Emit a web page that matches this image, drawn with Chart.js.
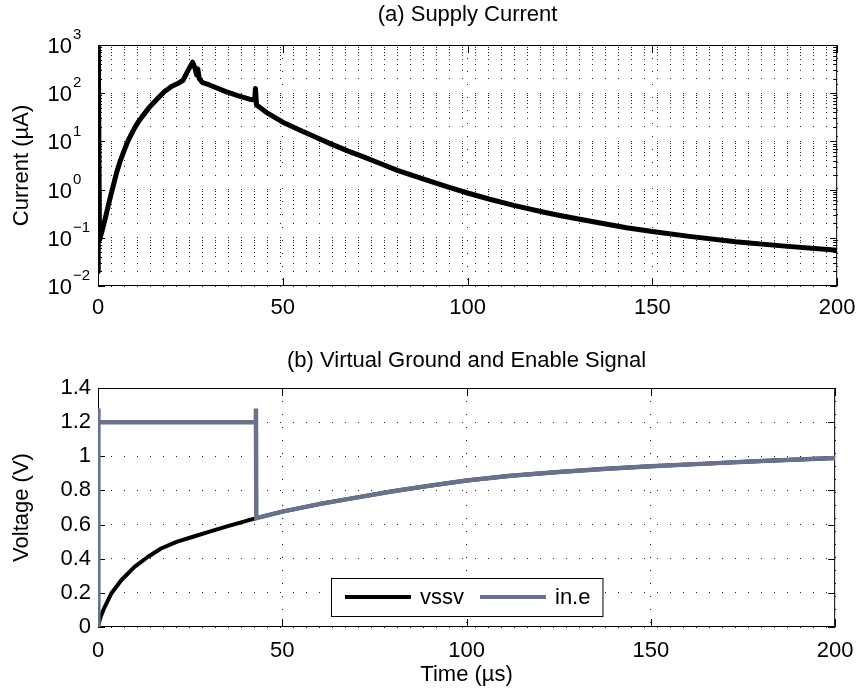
<!DOCTYPE html>
<html>
<head>
<meta charset="utf-8">
<script src="https://cdn.jsdelivr.net/npm/chart.js@4.4.0/dist/chart.umd.min.js"></script>
<style>
html, body { margin: 0; padding: 0; background: #fff; }
#wrap { position: relative; width: 864px; height: 689px; }
canvas { position: absolute; left: 0; }
#c1 { top: 0; }
#c2 { top: 345px; }
</style>
</head>
<body>
<div id="wrap">
<canvas id="c1" width="864" height="345"></canvas>
<canvas id="c2" width="864" height="344"></canvas>
</div>
<script>
var FONT = "'Liberation Sans', Arial, Helvetica, sans-serif";
Chart.defaults.font.family = FONT;
Chart.defaults.color = '#000';

// (a) supply current, time in us, current in uA
var tCur = [0, 0.05, 0.4, 1, 2, 3, 4, 5, 6, 7, 8, 9, 10, 11, 12, 14, 16, 18, 20, 22, 23,
  24.3, 25.6, 26.2, 26.7, 27.0, 27.4, 28.3, 30, 34.6, 38, 41, 42.4, 42.6, 42.9,
  46, 50, 55, 58.8, 63, 67.7, 72, 76.7, 81, 85.7, 90, 94.6, 100, 106, 112.5, 121, 125,
  130, 137, 143, 150, 160, 172.5, 185, 200];
var current = [0.02, 3000, 0.09, 0.13, 0.26, 0.55, 1.1, 2.2, 3.9, 6.2, 9.8, 14, 19.5, 26, 33, 52, 76, 108, 140, 165, 185,
  290, 440, 340, 240, 320, 200, 165, 150, 108, 88, 75, 72, 125, 57,
  38, 25, 16.6, 12.3, 8.9, 6.3, 4.7, 3.4, 2.5, 1.9, 1.48, 1.135, 0.85, 0.63, 0.47, 0.335, 0.29,
  0.245, 0.195, 0.162, 0.135, 0.107, 0.083, 0.068, 0.055];

// (b) virtual ground and enable signal, voltage in V
var tVssv = [0, 0.3, 0.8, 1.8, 3.6, 6.3, 9.9, 13.5, 17.1, 21.5, 26, 30.5, 35, 42.9,
  50, 60, 70, 80, 90, 100, 112, 125, 137, 150, 165, 180, 200];
var vssv = [0, 0.03, 0.065, 0.117, 0.196, 0.274, 0.352, 0.41, 0.46, 0.5, 0.53, 0.56, 0.589, 0.638,
  0.676, 0.72, 0.758, 0.795, 0.828, 0.858, 0.886, 0.908, 0.925, 0.941, 0.957, 0.972, 0.99];
var tEn = [0, 0.05, 0.15, 42.7, 42.85, 42.95, 50, 60, 70, 80, 90, 100, 112, 125, 137, 150, 165, 180, 200];
var inE = [0, 1.28, 1.2, 1.2, 1.28, 0.638, 0.676, 0.72, 0.758, 0.795, 0.828, 0.858, 0.886, 0.908, 0.925, 0.941, 0.957, 0.972, 0.99];

var timeTicks = [0, 50, 100, 150, 200];
var currentExp = [-2, -1, 0, 1, 2, 3];
var voltTicks = [0, 0.2, 0.4, 0.6, 0.8, 1, 1.2, 1.4];

function pts(xs, ys) {
  return xs.map(function (x, i) { return { x: x, y: ys[i] }; });
}
function isDecade(v) {
  var l = Math.log10(v);
  return Math.abs(l - Math.round(l)) < 1e-9;
}

// 1..9 x 10^n for the log grid
var logTicks = [];
currentExp.forEach(function (e, i) {
  for (var m = 1; m <= 9; m++) {
    if (i == currentExp.length - 1 && m > 1) break;
    logTicks.push(m * Math.pow(10, e));
  }
});

function setTicks(list) {
  return function (s) { s.ticks = list.map(function (v) { return { value: v }; }); };
}

var dotGrid = { color: '#222', lineWidth: 1, drawTicks: false };
var dotBorder = { display: false, dash: [1, 12] };

// box round the axes with inward ticks, like matlab (drawn under the data)
var frame = {
  id: 'frame',
  beforeDatasetsDraw: function (chart) {
    var a = chart.chartArea, ctx = chart.ctx;
    ctx.save();
    ctx.strokeStyle = '#000';
    ctx.lineWidth = 1;
    ctx.strokeRect(a.left + 0.5, a.top + 0.5, a.right - a.left - 1, a.bottom - a.top - 1);
    ctx.beginPath();
    var xs = chart.scales.x;
    xs.ticks.forEach(function (t) {
      var p = Math.round(xs.getPixelForValue(t.value)) + 0.5;
      ctx.moveTo(p, a.bottom); ctx.lineTo(p, a.bottom - 8);
      ctx.moveTo(p, a.top); ctx.lineTo(p, a.top + 8);
    });
    var ys = chart.scales.y;
    ys.ticks.forEach(function (t) {
      var p = Math.round(ys.getPixelForValue(t.value)) + 0.5;
      var len = (ys.type == 'logarithmic' && !isDecade(t.value)) ? 4 : 7;
      ctx.moveTo(a.left, p); ctx.lineTo(a.left + len, p);
      ctx.moveTo(a.right, p); ctx.lineTo(a.right - len, p);
    });
    ctx.stroke();
    ctx.restore();
  }
};

// 10^n labels with real superscripts
var decadeLabels = {
  id: 'decadeLabels',
  afterDraw: function (chart) {
    var ys = chart.scales.y, ctx = chart.ctx, a = chart.chartArea;
    ctx.save();
    ctx.fillStyle = '#000';
    ctx.textBaseline = 'middle';
    currentExp.forEach(function (e) {
      var p = ys.getPixelForValue(Math.pow(10, e));
      ctx.font = '22px ' + FONT;
      ctx.textAlign = 'right';
      ctx.fillText('10', a.left - 26, p + 2);
      ctx.font = '15px ' + FONT;
      ctx.textAlign = 'left';
      ctx.fillText(e < 0 ? '\u2212' + (-e) : String(e), a.left - 25, p - 10);
    });
    ctx.restore();
  }
};

// legend box inside the plot, bottom centre
var boxLegend = {
  id: 'boxLegend',
  afterDraw: function (chart) {
    var a = chart.chartArea, ctx = chart.ctx;
    var sets = chart.data.datasets;
    var pad = 14, lineLen = 66, gap = 9, sep = 16, h = 38;
    ctx.save();
    ctx.font = '22px ' + FONT;
    var w = pad * 2 - 2;
    sets.forEach(function (d, i) {
      w += lineLen + gap + ctx.measureText(d.label).width + (i ? sep : 0);
    });
    var x0 = Math.round((a.left + a.right - w) / 2), y0 = a.bottom - 11 - h;
    ctx.fillStyle = '#fff';
    ctx.fillRect(x0, y0, w, h);
    ctx.strokeStyle = '#000';
    ctx.lineWidth = 1;
    ctx.strokeRect(x0 + 0.5, y0 + 0.5, w, h);
    var x = x0 + pad, ym = y0 + h / 2;
    sets.forEach(function (d, i) {
      if (i) x += sep;
      ctx.strokeStyle = d.borderColor;
      ctx.lineWidth = 4;
      ctx.beginPath(); ctx.moveTo(x, ym); ctx.lineTo(x + lineLen, ym); ctx.stroke();
      x += lineLen + gap;
      ctx.fillStyle = '#000';
      ctx.textAlign = 'left';
      ctx.textBaseline = 'middle';
      ctx.fillText(d.label, x, ym + 1);
      x += ctx.measureText(d.label).width;
    });
    ctx.restore();
  }
};

new Chart(document.getElementById('c1'), {
  type: 'line',
  data: {
    datasets: [{
      label: 'current',
      data: pts(tCur, current),
      borderColor: '#000',
      borderWidth: 5,
      pointRadius: 0,
      tension: 0,
      borderJoinStyle: 'round'
    }]
  },
  options: {
    responsive: false,
    animation: false,
    events: [],
    layout: { padding: { left: 0, right: 22, top: 0, bottom: 0 } },
    plugins: {
      legend: { display: false },
      tooltip: { enabled: false },
      title: {
        display: true,
        text: '(a) Supply Current',
        fullSize: false,
        color: '#000',
        font: { size: 22, weight: 'normal' },
        padding: { top: 2, bottom: 16.6 }
      }
    },
    scales: {
      x: {
        type: 'linear', min: 0, max: 200,
        afterBuildTicks: setTicks(timeTicks),
        afterFit: function (s) { s.height = 59; },
        ticks: { font: { size: 22 }, color: '#000', padding: 8.5, maxRotation: 0, autoSkip: false },
        grid: dotGrid,
        border: dotBorder
      },
      y: {
        type: 'logarithmic', min: 0.01, max: 1000,
        afterBuildTicks: setTicks(logTicks),
        afterFit: function (s) { s.width = 98; },
        ticks: { display: false, autoSkip: false },
        title: { display: true, text: 'Current (\u00b5A)', color: '#000', font: { size: 22 }, padding: { top: 9, bottom: 0 } },
        grid: dotGrid,
        border: dotBorder
      }
    }
  },
  plugins: [frame, decadeLabels]
});

new Chart(document.getElementById('c2'), {
  type: 'line',
  data: {
    datasets: [{
      label: 'vssv',
      data: pts(tVssv, vssv),
      borderColor: '#000',
      borderWidth: 4,
      pointRadius: 0,
      tension: 0,
      borderJoinStyle: 'round',
      order: 1
    }, {
      label: 'in.e',
      data: pts(tEn, inE),
      borderColor: '#69728a',
      borderWidth: 4.5,
      pointRadius: 0,
      tension: 0,
      order: 0
    }]
  },
  options: {
    responsive: false,
    animation: false,
    events: [],
    layout: { padding: { left: 0, right: 22, top: 0, bottom: 0 } },
    plugins: {
      legend: { display: false },
      tooltip: { enabled: false },
      title: {
        display: true,
        text: '(b) Virtual Ground and Enable Signal',
        fullSize: false,
        color: '#000',
        font: { size: 22, weight: 'normal' },
        padding: { top: 3, bottom: 13.6 }
      }
    },
    scales: {
      x: {
        type: 'linear', min: 0, max: 200,
        afterBuildTicks: setTicks(timeTicks),
        afterFit: function (s) { s.height = 62; },
        ticks: { font: { size: 22 }, color: '#000', padding: 10.5, maxRotation: 0, autoSkip: false },
        title: { display: true, text: 'Time (\u00b5s)', color: '#000', font: { size: 22 }, padding: { top: 0, bottom: 1 } },
        grid: dotGrid,
        border: dotBorder
      },
      y: {
        type: 'linear', min: 0, max: 1.4,
        afterBuildTicks: setTicks(voltTicks),
        afterFit: function (s) { s.width = 98; },
        ticks: {
          font: { size: 22 }, color: '#000', padding: 7, autoSkip: false,
          callback: function (v) { return String(Math.round(v * 10) / 10); }
        },
        title: { display: true, text: 'Voltage (V)', color: '#000', font: { size: 22 }, padding: { top: 9, bottom: 0 } },
        grid: dotGrid,
        border: dotBorder
      }
    }
  },
  plugins: [frame, boxLegend]
});
</script>
</body>
</html>
